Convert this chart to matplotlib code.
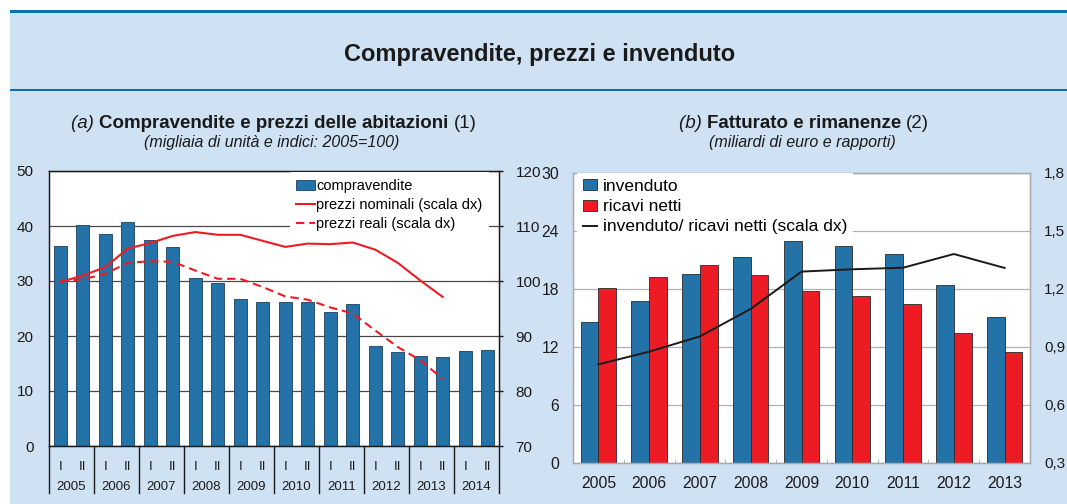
import numpy as np
import matplotlib
matplotlib.use('Agg')
import matplotlib.pyplot as plt
from matplotlib.patches import Rectangle
from matplotlib.ticker import FuncFormatter
import matplotlib.transforms as mtransforms

plt.rcParams['font.family'] = ['Liberation Sans', 'DejaVu Sans']

# (a) compravendite e prezzi, semestrale
anni_a = ['2005', '2006', '2007', '2008', '2009', '2010', '2011', '2012', '2013', '2014']
semestri = ['I', 'II'] * len(anni_a)
compravendite = [36.4, 40.2, 38.6, 40.8, 37.5, 36.1, 30.6, 29.7, 26.7, 26.2,
                 26.1, 26.1, 24.4, 25.8, 18.1, 17.1, 16.4, 16.2, 17.2, 17.5]
prezzi_nominali = [99.8, 101.0, 102.5, 105.9, 106.9, 108.2, 108.9, 108.4, 108.4,
                   107.3, 106.2, 106.8, 106.7, 107.0, 105.7, 103.3, 100.1, 97.1]
prezzi_reali = [100.0, 100.3, 101.3, 103.3, 103.6, 103.5, 101.9, 100.4, 100.4,
                98.9, 97.2, 96.6, 95.2, 94.1, 91.0, 88.0, 85.6, 82.2]

# (b) fatturato e rimanenze, annuale
anni_b = ['2005', '2006', '2007', '2008', '2009', '2010', '2011', '2012', '2013']
invenduto = [14.6, 16.8, 19.6, 21.3, 23.0, 22.4, 21.6, 18.4, 15.1]
ricavi_netti = [18.1, 19.2, 20.5, 19.4, 17.8, 17.3, 16.4, 13.4, 11.5]
rapporto = [0.81, 0.876, 0.955, 1.097, 1.29, 1.302, 1.31, 1.381, 1.309]

BLUE = '#2372a8'
RED = '#ed1c24'
BG = '#cfe2f3'
FRAME = '#0a70b2'

W, H = 1067, 504
fig = plt.figure(figsize=(W / 100, H / 100), dpi=100)
fig.patch.set_facecolor('white')


def box(x0, y0, x1, y1, color):
    fig.patches.append(Rectangle((x0 / W, 1 - y1 / H), (x1 - x0) / W, (y1 - y0) / H,
                                 transform=fig.transFigure, color=color, zorder=-5, lw=0))


def fax(x0, y0, x1, y1):
    return [x0 / W, 1 - y1 / H, (x1 - x0) / W, (y1 - y0) / H]


box(10, 12, W, H, BG)
box(10, 10, W, 13, FRAME)
box(10, 88.5, W, 91, FRAME)

fig.text(540 / W, 1 - 54 / H, 'Compravendite, prezzi e invenduto', fontsize=17,
         weight='bold', ha='center', va='center', color='#1a1a1a')


def mixed_title(xc, y, parts, size):
    r = fig.canvas.get_renderer()
    objs = []
    for s, st, wt in parts:
        objs.append(fig.text(0, 1 - y / H, s, fontsize=size, style=st, weight=wt,
                             ha='left', va='center', color='#1a1a1a'))
    widths = [t.get_window_extent(r).width for t in objs]
    x = xc - sum(widths) / 2
    for t, w in zip(objs, widths):
        t.set_x(x / W)
        x += w


mixed_title(274, 123, [('(a) ', 'italic', 'normal'),
                       ('Compravendite e prezzi delle abitazioni ', 'normal', 'bold'),
                       ('(1)', 'normal', 'normal')], 13.5)
mixed_title(804, 123, [('(b) ', 'italic', 'normal'),
                       ('Fatturato e rimanenze ', 'normal', 'bold'),
                       ('(2)', 'normal', 'normal')], 13.5)
fig.text(272 / W, 1 - 142 / H, '(migliaia di unità e indici: 2005=100)', fontsize=11.5,
         style='italic', ha='center', va='center', color='#1a1a1a')
fig.text(802 / W, 1 - 142 / H, '(miliardi di euro e rapporti)', fontsize=11.5,
         style='italic', ha='center', va='center', color='#1a1a1a')

# ---- pannello (a)
ax1 = fig.add_axes(fax(49, 171, 499, 446))
x = np.arange(len(compravendite))
ax1.bar(x, compravendite, width=0.59, color=BLUE, edgecolor='#1d3f5c', linewidth=0.6,
        label='compravendite', zorder=2)
ax1.set_xlim(-0.5, len(compravendite) - 0.5)
ax1.set_ylim(0, 50)
ax1.set_yticks(range(0, 51, 10))
ax1.grid(axis='y', color='#4a4a4a', lw=0.9, zorder=0)
ax1.set_axisbelow(True)
for s in ax1.spines.values():
    s.set_color('#1a1a1a')
    s.set_linewidth(1.0)
ax1.tick_params(axis='y', length=0, pad=11, labelsize=11, labelcolor='#1a1a1a')
ax1.set_xticks(x)
ax1.set_xticklabels(semestri)
ax1.tick_params(axis='x', length=0, pad=11, labelsize=9.5, labelcolor='#1a1a1a')

trans = mtransforms.blended_transform_factory(ax1.transData, ax1.transAxes)
for k in range(len(anni_a) + 1):
    ax1.plot([2 * k - 0.5] * 2, [0, -47 / 275], transform=trans, color='#1a1a1a',
             lw=1.0, clip_on=False)
for k, a in enumerate(anni_a):
    ax1.text(2 * k + 0.5, -41 / 275, a, transform=trans, ha='center', va='center',
             fontsize=9.5, color='#1a1a1a')

ax1b = ax1.twinx()
n = len(prezzi_nominali)
ax1b.plot(x[:n], prezzi_nominali, color=RED, lw=1.5, label='prezzi nominali (scala dx)')
ax1b.plot(x[:len(prezzi_reali)], prezzi_reali, color=RED, lw=1.5, ls=(0, (4, 2.4)),
          label='prezzi reali (scala dx)')
ax1b.set_ylim(70, 120)
ax1b.set_yticks(range(70, 121, 10))
ax1b.tick_params(axis='y', length=3, width=1, color='#1a1a1a', pad=9, labelsize=11,
                 labelcolor='#1a1a1a')
for s in ax1b.spines.values():
    s.set_color('#1a1a1a')

h1, l1 = ax1.get_legend_handles_labels()
h2, l2 = ax1b.get_legend_handles_labels()
leg = ax1b.legend(h1 + h2, l1 + l2, loc='upper left', bbox_to_anchor=(0.535, 0.995),
                  borderaxespad=0, fontsize=10.5, frameon=True, fancybox=False,
                  framealpha=1, edgecolor='none', borderpad=0.45, labelspacing=0.36,
                  handlelength=1.25, handletextpad=0.1)
leg.get_frame().set_facecolor('white')

# ---- pannello (b)
ax2 = fig.add_axes(fax(573, 173, 1030, 463))
xb = np.arange(len(anni_b))
ax2.bar(xb - 0.175, invenduto, width=0.35, color=BLUE, edgecolor='#2a2a2a',
        linewidth=0.6, label='invenduto', zorder=2)
ax2.bar(xb + 0.175, ricavi_netti, width=0.35, color=RED, edgecolor='#2a2a2a',
        linewidth=0.6, label='ricavi netti', zorder=2)
ax2.set_xlim(-0.5, len(anni_b) - 0.5)
ax2.set_ylim(0, 30)
ax2.set_yticks(range(0, 31, 6))
ax2.grid(axis='y', color='#b0b0b0', lw=0.9, zorder=0)
ax2.set_axisbelow(True)
for s in ax2.spines.values():
    s.set_color('#a8a8a8')
    s.set_linewidth(1.0)
ax2.set_xticks(xb)
ax2.set_xticklabels(anni_b)
ax2.set_xticks(xb[:-1] + 0.5, minor=True)
ax2.tick_params(axis='x', which='major', length=0, pad=9, labelsize=11.3,
                labelcolor='#1a1a1a')
ax2.tick_params(axis='x', which='minor', length=3, direction='in', color='#a8a8a8')
ax2.tick_params(axis='y', length=0, pad=10, labelsize=11.3, labelcolor='#1a1a1a')

ax2b = ax2.twinx()
ax2b.plot(xb, rapporto, color='#1a1a1a', lw=1.4, label='invenduto/ ricavi netti (scala dx)')
ax2b.set_ylim(0.3, 1.8)
ax2b.set_yticks(np.arange(0.3, 1.81, 0.3))
ax2b.yaxis.set_major_formatter(FuncFormatter(lambda v, p: f'{v:.1f}'.replace('.', ',')))
ax2b.tick_params(axis='y', length=0, pad=10, labelsize=11, labelcolor='#1a1a1a')
for s in ax2b.spines.values():
    s.set_color('#a8a8a8')

h1, l1 = ax2.get_legend_handles_labels()
h2, l2 = ax2b.get_legend_handles_labels()
leg2 = ax2b.legend(h1 + h2, l1 + l2, loc='upper left', bbox_to_anchor=(0.008, 1.0),
                   borderaxespad=0, fontsize=12.5, frameon=True, fancybox=False,
                   framealpha=1, edgecolor='none', borderpad=0.35, labelspacing=0.3,
                   handlelength=0.8, handleheight=0.6, handletextpad=0.35)
leg2.get_frame().set_facecolor('white')

fig.savefig('out.png', dpi=100)
